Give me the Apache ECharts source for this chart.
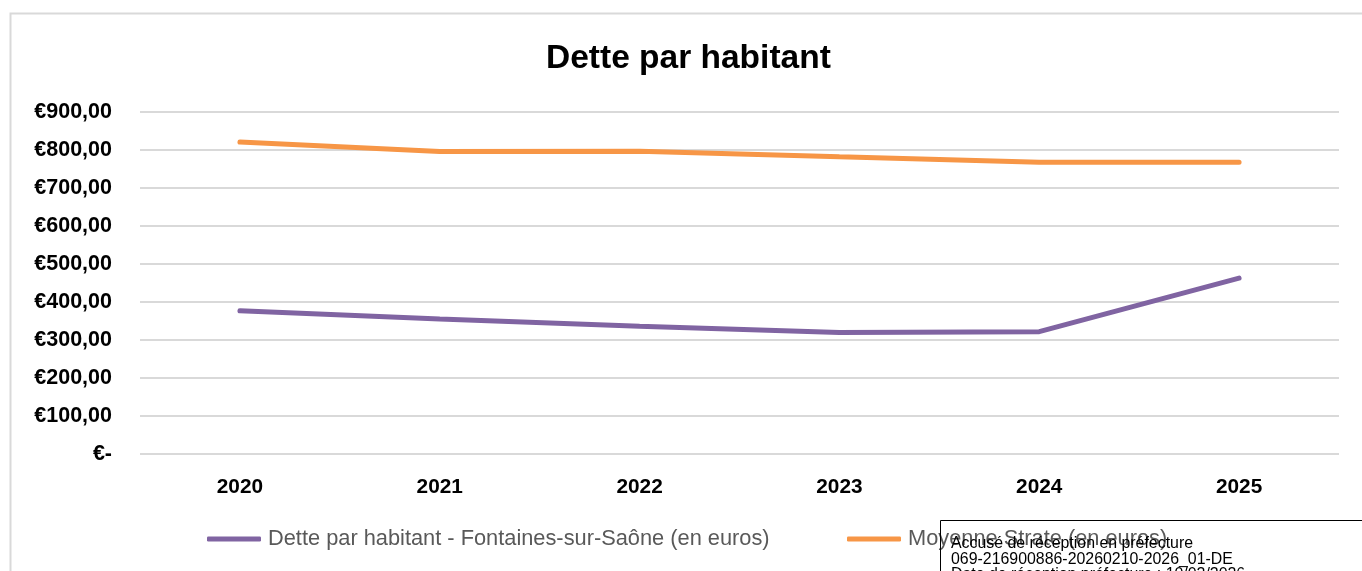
<!DOCTYPE html>
<html>
<head>
<meta charset="utf-8">
<script src="https://cdn.jsdelivr.net/npm/echarts@6/dist/echarts.min.js"></script>
<style>html,body{margin:0;padding:0;background:#fff;}#c{width:1362px;height:571px;}</style>
</head>
<body>
<div id="c"></div>
<script>
const categories = ['2020', '2021', '2022', '2023', '2024', '2025'];
const detteFontaines = [377, 355, 336, 320, 322, 463];
const moyenneStrate = [821, 796, 797, 782, 768, 768];
const seriesNames = ['Dette par habitant - Fontaines-sur-Saône (en euros)', 'Moyenne Strate (en euros)'];
const stampLines = ['Accusé de réception en préfecture', '069-216900886-20260210-2026_01-DE', 'Date de réception préfecture : 10/02/2026'];

const font = '"Liberation Sans", Arial, sans-serif';
const chart = echarts.init(document.getElementById('c'));
const legendCommon = {
  orient: 'horizontal', top: 523, itemWidth: 54, itemHeight: 5, icon: 'roundRect',
  textStyle: { fontFamily: font, fontSize: 21.8, color: '#595959', padding: [0, 0, 0, 2] },
  selectedMode: false
};
chart.setOption({
  animation: false,
  backgroundColor: '#fff',
  title: {
    text: 'Dette par habitant', left: 541, top: 37,
    textStyle: { fontFamily: font, fontSize: 33.5, fontWeight: 'bold', color: '#000' }
  },
  legend: [
    Object.assign({ left: 202, data: [seriesNames[0]] }, legendCommon),
    Object.assign({ left: 842, data: [seriesNames[1]] }, legendCommon)
  ],
  grid: { left: 140, right: 23, top: 112, bottom: 117 },
  xAxis: {
    type: 'category', data: categories, boundaryGap: true,
    axisLine: { show: false }, axisTick: { show: false },
    axisLabel: { fontFamily: font, fontSize: 20.8, fontWeight: 'bold', color: '#000', margin: 23 }
  },
  yAxis: {
    type: 'value', min: 0, max: 900, interval: 100,
    axisLine: { show: false }, axisTick: { show: false },
    splitLine: { lineStyle: { color: '#d9d9d9', width: 2 } },
    axisLabel: {
      fontFamily: font, fontSize: 21.5, fontWeight: 'bold', color: '#000', margin: 28,
      formatter: v => v === 0 ? '€-' : '€' + v.toFixed(2).replace('.', ',')
    }
  },
  series: [
    { name: seriesNames[0], type: 'line', data: detteFontaines, symbol: 'none',
      lineStyle: { color: '#8064A2', width: 5, cap: 'round' }, itemStyle: { color: '#8064A2' } },
    { name: seriesNames[1], type: 'line', data: moyenneStrate, symbol: 'none',
      lineStyle: { color: '#F79646', width: 5, cap: 'round' }, itemStyle: { color: '#F79646' } }
  ],
  graphic: [
    { type: 'rect', z: -10, silent: true, shape: { x: 10.5, y: 13.5, width: 1400, height: 600 },
      style: { fill: 'none', stroke: '#d9d9d9', lineWidth: 2 } },
    { type: 'rect', z: 100, silent: true, shape: { x: 940.5, y: 520.5, width: 460, height: 120 },
      style: { fill: 'none', stroke: '#000', lineWidth: 1 } },
    { type: 'text', z: 101, silent: true, left: 951, top: 536,
      style: { text: stampLines.join('\n'), fontFamily: font, fontSize: 15.9, lineHeight: 15.5, fill: '#000' } }
  ]
});
</script>
</body>
</html>
